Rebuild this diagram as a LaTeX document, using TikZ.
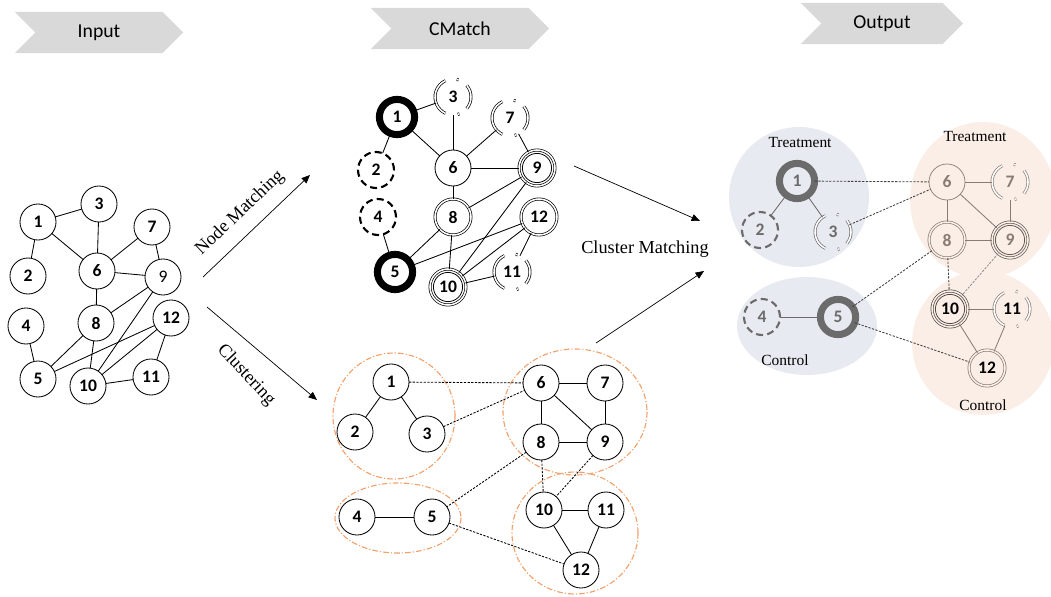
\documentclass[tikz,border=0pt]{standalone}
\usepackage{fontspec}
\setmainfont{Liberation Serif}
\setsansfont{Carlito}
\usetikzlibrary{arrows.meta, shapes.symbols}

\definecolor{hdrgrey}{HTML}{D9D9D9}
\definecolor{clusterorange}{HTML}{F2A06A}
\definecolor{treatblue}{HTML}{E7EAF0}
\definecolor{ctrlpeach}{HTML}{FBEEE6}
\definecolor{outgrey}{HTML}{6B6B6B}
\definecolor{warmgrey}{HTML}{877C74}

\newcommand{\numfont}{\sffamily\bfseries\fontsize{12.5}{13}\selectfont}

% broken double ring, drawn round an undrawn node
\newcommand{\splitring}[2][black]{%
  \draw[#1, double, double distance=1.1pt, line width=0.5pt]
    ([shift={(115:0.45cm)}]#2.center) arc[start angle=115, end angle=245, radius=0.45cm]
    ([shift={(-40:0.45cm)}]#2.center) arc[start angle=-40, end angle=40, radius=0.45cm]
    ([shift={(72:0.45cm)}]#2.center) arc[start angle=72, end angle=78, radius=0.45cm]
    ([shift={(-75:0.45cm)}]#2.center) arc[start angle=-75, end angle=-69, radius=0.45cm];}

\tikzset{
  plainnode/.style={circle, draw, line width=0.6pt, minimum size=0.9cm,
                    inner sep=0pt, outer sep=0pt, font=\numfont},
  ringnode/.style={plainnode, line width=5pt, minimum size=0.88cm},
  dashnode/.style={plainnode, line width=1.5pt, dash pattern=on 5pt off 3pt},
  twinnode/.style={plainnode, double, double distance=1.1pt, line width=0.5pt},
  tripnode/.style={twinnode,
                   path picture={\draw[line width=0.55pt, #1]
                     (path picture bounding box.center) circle (0.365cm);}},
  tripnode/.default=black,
  splitnode/.style={plainnode, draw=none},
  edgeline/.style={line width=0.6pt},
  matchline/.style={line width=0.6pt, dash pattern=on 1.6pt off 1pt},
  clusterline/.style={draw=clusterorange, line width=0.8pt,
                      dash pattern=on 4pt off 1.5pt on 0.8pt off 1.5pt},
  stagebox/.style={signal, signal from=west, signal to=east, fill=hdrgrey,
                   minimum height=1.025cm, inner sep=0pt,
                   font=\sffamily\fontsize{14}{14}\selectfont},
  flowarrow/.style={-{Triangle[length=6pt, width=5pt]}, line width=0.5pt},
  flowlabel/.style={font=\fontsize{13}{13}\selectfont},
  grouplabel/.style={font=\fontsize{11}{11}\selectfont},
}

\begin{document}
\begin{tikzpicture}[x=0.025cm, y=-0.025cm]
    \useasboundingbox (0,0) rectangle (1051,597);

    % stage headers
    \node[stagebox, minimum width=4.2cm]  (input)  at (99,32.5)  {Input};
    \node[stagebox, minimum width=4.45cm] (cmatch) at (460,28.5) {CMatch};
    \node[stagebox, minimum width=4.05cm] (output) at (882,23.5) {Output};

    % input graph
    \foreach \n/\x/\y in {1/38/222, 2/28/276, 3/99/204, 4/26/326, 5/38/379,
                          6/97/271, 7/152/227, 8/96/323, 10/88/386,
                          11/151/377, 12/171/318}
        \node[plainnode] (in\n) at (\x,\y) {\n};
    \node[plainnode, font=\sffamily\fontsize{12.5}{13}\selectfont] (in9) at (163,277) {9};
    \foreach \a/\b in {1/3, 1/2, 1/6, 3/6, 6/7, 7/9, 6/9, 6/8, 8/9, 9/10,
                       8/5, 8/10, 4/5, 5/12, 12/10, 12/11, 10/11}
        \draw[edgeline] (in\a) -- (in\b);

    % flow arrows
    \coordinate (nmfrom) at (203,277);
    \coordinate (nmto) at (310,175);
    \coordinate (clfrom) at (207,307);
    \coordinate (clto) at (317,400);
    \draw[flowarrow] (nmfrom) -- (nmto);
    \draw[flowarrow] (clfrom) -- (clto);
    \node[flowlabel, rotate=43.6] (nmlabel) at (240,213) {Node Matching};
    \node[flowlabel, rotate=-47] (cllabel) at (246,375) {Clustering};

    % node matching graph
    \node[ringnode]  (cm1)  at (397,117) {1};
    \node[dashnode]  (cm2)  at (376,170) {2};
    \node[splitnode] (cm3)  at (453,97)  {3};
    \node[dashnode]  (cm4)  at (378,217) {4};
    \node[ringnode]  (cm5)  at (395,272) {5};
    \node[plainnode] (cm6)  at (453,168) {6};
    \node[splitnode] (cm7)  at (510,118) {7};
    \node[twinnode]  (cm8)  at (453,217) {8};
    \node[tripnode]  (cm9)  at (537,168) {9};
    \node[tripnode]  (cm10) at (448,287) {10};
    \node[splitnode] (cm11) at (512,272) {11};
    \node[twinnode]  (cm12) at (539,217) {12};
    \splitring{cm3} \splitring{cm7} \splitring{cm11}
    \foreach \a/\b in {1/3, 1/2, 1/6, 3/6, 6/7, 7/9, 6/9, 6/8, 8/9, 9/10,
                       8/5, 8/10, 4/5, 5/12, 12/10, 12/11, 10/11}
        \draw[edgeline] (cm\a) -- (cm\b);

    % clustering graph
    \draw[clusterline] (394,416) ellipse [x radius=61, y radius=63];
    \draw[clusterline] (575,412) ellipse [x radius=72, y radius=63];
    \draw[clusterline] (398,518) ellipse [x radius=63, y radius=35];
    \draw[clusterline] (575,533) ellipse [x radius=63, y radius=61];
    \foreach \n/\x/\y in {1/391/382, 2/355/432, 3/427/434, 4/357/517,
                          5/432/517, 6/541/383, 7/605/383, 8/541/442,
                          9/605/442, 10/544/510, 11/606/510, 12/581/570}
        \node[plainnode] (cl\n) at (\x,\y) {\n};
    \foreach \a/\b in {1/2, 1/3, 6/7, 6/8, 6/9, 7/9, 8/9, 4/5, 10/11, 10/12, 11/12}
        \draw[edgeline] (cl\a) -- (cl\b);
    \foreach \a/\b in {1/6, 3/6, 8/5, 8/10, 9/10, 5/12}
        \draw[matchline] (cl\a) -- (cl\b);

    % cluster matching
    \coordinate (cmfrom) at (574,166);
    \coordinate (cmto) at (700,221);
    \coordinate (clufrom) at (596,343);
    \coordinate (cluto) at (704,271);
    \draw[flowarrow] (cmfrom) -- (cmto);
    \draw[flowarrow] (clufrom) -- (cluto);
    \node[flowlabel] (cmlabel) at (645,249) {Cluster Matching};

    % output groups
    \fill[treatblue] (799,197) ellipse [x radius=70, y radius=70];
    \fill[treatblue] (807,326) ellipse [x radius=70, y radius=49];
    \fill[ctrlpeach] (983,200) ellipse [x radius=73, y radius=78];
    \fill[ctrlpeach] (983,343) ellipse [x radius=71, y radius=72];
    \node[grouplabel] (treatl) at (800,143) {Treatment};
    \node[grouplabel] (treatr) at (975,137) {Treatment};
    \node[grouplabel] (ctrll)  at (785,360) {Control};
    \node[grouplabel] (ctrlr)  at (983,405) {Control};

    \node[ringnode, draw=outgrey, text=outgrey]  (out1) at (797,181) {1};
    \node[dashnode, draw=outgrey, text=outgrey]  (out2) at (760,230) {2};
    \node[splitnode, text=outgrey]               (out3) at (833,232) {3};
    \node[dashnode, draw=outgrey, text=outgrey]  (out4) at (762,317) {4};
    \node[ringnode, draw=outgrey, text=outgrey]  (out5) at (838,317) {5};
    \node[plainnode, draw=warmgrey, text=warmgrey, line width=0.5pt] (out6) at (947,182) {6};
    \node[splitnode, text=warmgrey]              (out7) at (1010,182) {7};
    \node[twinnode, draw=warmgrey, double=ctrlpeach, text=warmgrey] (out8) at (947,240) {8};
    \node[tripnode=warmgrey!70!black, draw=warmgrey!70!black, double=ctrlpeach,
          text=warmgrey] (out9) at (1010,240) {9};
    \node[tripnode=warmgrey!60!black, draw=warmgrey!60!black, double=ctrlpeach] (out10) at (950,309) {10};
    \node[splitnode]                             (out11) at (1012,309) {11};
    \node[twinnode, draw=warmgrey, double=ctrlpeach] (out12) at (987,368) {12};
    \splitring[outgrey]{out3} \splitring[warmgrey]{out7} \splitring[warmgrey]{out11}

    \foreach \a/\b in {1/2, 1/3, 4/5}
        \draw[edgeline, outgrey] (out\a) -- (out\b);
    \foreach \a/\b in {6/7, 6/8, 6/9, 7/9, 8/9, 10/11, 10/12, 11/12}
        \draw[edgeline, warmgrey] (out\a) -- (out\b);
    \foreach \a/\b in {1/6, 3/6, 5/8, 8/10, 5/12}
        \draw[matchline, black!75] (out\a) -- (out\b);
    \draw[matchline, black!45] (out9) -- (out10);
\end{tikzpicture}
\end{document}
